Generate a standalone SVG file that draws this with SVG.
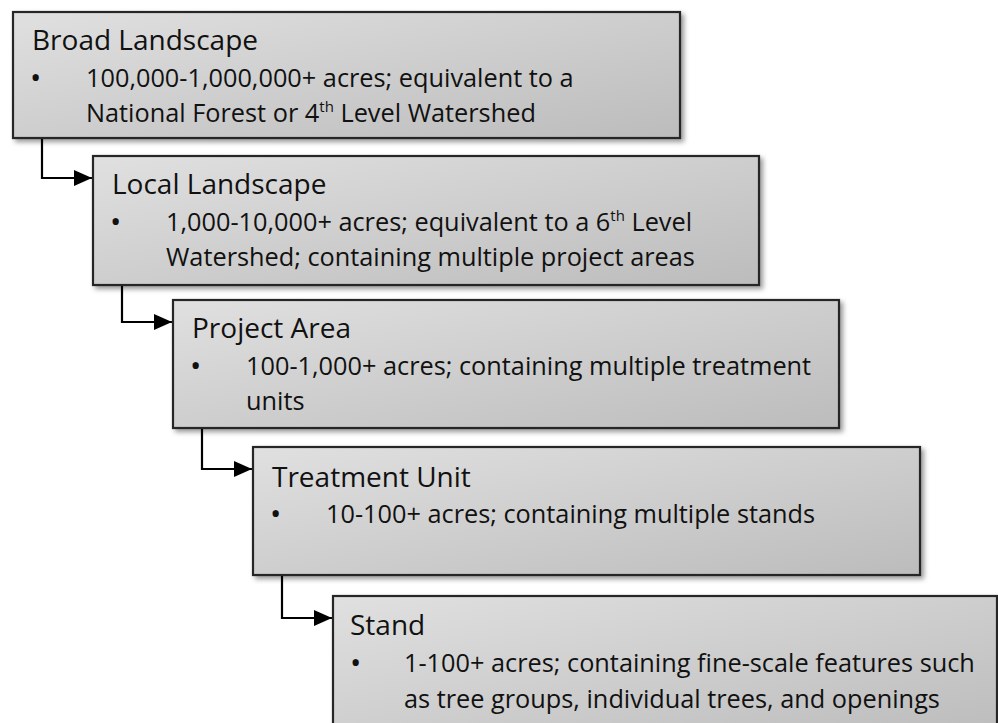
<svg xmlns="http://www.w3.org/2000/svg" width="998" height="723" viewBox="0 0 998 723">
<defs>
<linearGradient id="g" x1="0" y1="0" x2="1" y2="1">
<stop offset="0" stop-color="#e0e0e0"/>
<stop offset="1" stop-color="#bcbcbc"/>
</linearGradient>
<filter id="sh" x="-5%" y="-5%" width="115%" height="120%">
<feDropShadow dx="3" dy="3" stdDeviation="2.5" flood-color="#000" flood-opacity="0.4"/>
</filter>
<marker id="ah" viewBox="0 0 18 16" refX="18" refY="8" markerWidth="18" markerHeight="16" orient="auto" markerUnits="userSpaceOnUse">
<path d="M0,0 L18,8 L0,16 z" fill="#000"/>
</marker>
<style>
.box{fill:url(#g);stroke:#262626;stroke-width:2.2;filter:url(#sh)}
.t{font-family:"Open Sans","Liberation Sans",sans-serif;fill:#111}
.h{font-size:28px}
.b{font-size:25.3px}
.d{font-size:30px}
.c{fill:none;stroke:#000;stroke-width:2.2;marker-end:url(#ah)}
</style>
</defs>
<g id="connectors">
<path class="c" d="M42,138 V178 H92"/>
<path class="c" d="M122,285 V322 H172"/>
<path class="c" d="M202,428 V469 H252"/>
<path class="c" d="M282,575 V618 H332"/>
</g>
<g id="broad-landscape">
<rect class="box" x="13" y="12" width="667" height="126"/>
<text class="t h" x="32" y="50">Broad Landscape</text>
<text class="t d" x="30" y="88">•</text>
<text class="t b" x="86" y="87">100,000-1,000,000+ acres; equivalent to a</text>
<text class="t b" x="86" y="122">National Forest or 4<tspan font-size="15" dy="-10">th</tspan><tspan dy="10"> Level Watershed</tspan></text>
</g>
<g id="local-landscape">
<rect class="box" x="93" y="156" width="666" height="129"/>
<text class="t h" x="112" y="194">Local Landscape</text>
<text class="t d" x="110" y="232">•</text>
<text class="t b" x="166" y="231">1,000-10,000+ acres; equivalent to a 6<tspan font-size="15" dy="-10">th</tspan><tspan dy="10"> Level</tspan></text>
<text class="t b" x="166" y="266">Watershed; containing multiple project areas</text>
</g>
<g id="project-area">
<rect class="box" x="173" y="300" width="666" height="128"/>
<text class="t h" x="192" y="338">Project Area</text>
<text class="t d" x="190" y="376">•</text>
<text class="t b" x="246" y="375">100-1,000+ acres; containing multiple treatment</text>
<text class="t b" x="246" y="410">units</text>
</g>
<g id="treatment-unit">
<rect class="box" x="253" y="447" width="667" height="128"/>
<text class="t h" x="272" y="487">Treatment Unit</text>
<text class="t d" x="270" y="524">•</text>
<text class="t b" x="326" y="523">10-100+ acres; containing multiple stands</text>
</g>
<g id="stand">
<rect class="box" x="333" y="596" width="664" height="140"/>
<text class="t h" x="350" y="635">Stand</text>
<text class="t d" x="350" y="673">•</text>
<text class="t b" x="404" y="672">1-100+ acres; containing fine-scale features such</text>
<text class="t b" x="404" y="708">as tree groups, individual trees, and openings</text>
</g>
</svg>
